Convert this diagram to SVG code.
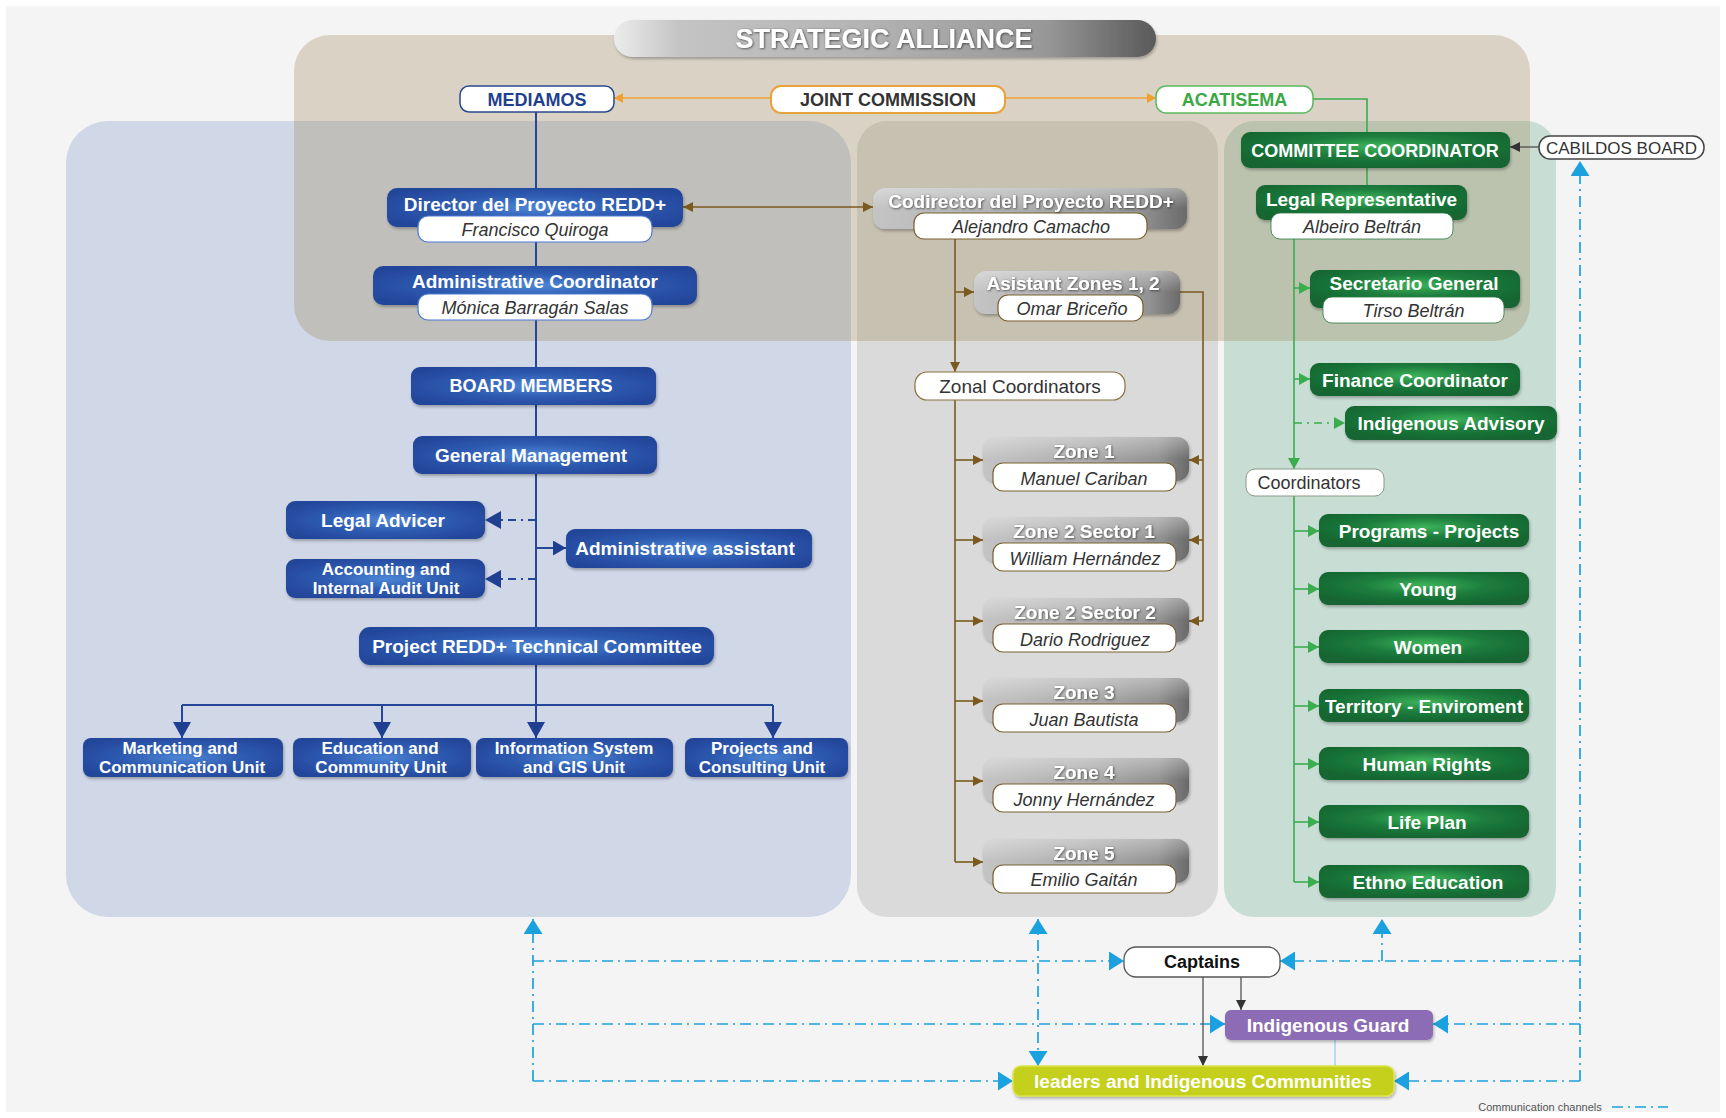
<svg xmlns="http://www.w3.org/2000/svg" width="1726" height="1118" viewBox="0 0 1726 1118">
<style>
.ttl{font-family:"Liberation Sans",Arial,sans-serif;font-weight:700;font-size:19px;fill:#fff;text-anchor:middle;dominant-baseline:central}
.cap{font-size:18px}
.two{font-size:17px}
.sub{font-family:"Liberation Sans",Arial,sans-serif;font-style:italic;font-size:18px;fill:#333;text-anchor:middle;dominant-baseline:central}
.reg{font-family:"Liberation Sans",Arial,sans-serif;font-size:18px;fill:#333;text-anchor:middle;dominant-baseline:central}
.bb{fill:url(#gBlue);filter:url(#sh)}
.gb{fill:url(#gGreen);filter:url(#sh)}
.gy{fill:url(#gGray);filter:url(#sh)}
.gloss{fill:url(#gGloss)}
.wB{fill:#fff;stroke:#4a7bd0;stroke-width:1.2}
.wG{fill:#fff;stroke:#7a6030;stroke-width:1.2}
.wN{fill:#fff;stroke:#2a7a40;stroke-width:0.8}
.ts{filter:url(#tsh)}
.cb{fill:none;stroke:#24479a;stroke-width:2}
.cbr{fill:none;stroke:#7a5a1e;stroke-width:1.6}
.cg{fill:none;stroke:#3aad4e;stroke-width:1.6}
.cc{fill:none;stroke:#1ba1dd;stroke-width:1.7;stroke-dasharray:11 5 2 5}
.ck{fill:none;stroke:#444;stroke-width:1.2}
</style>
<defs>
<radialGradient id="gBlue" cx="50%" cy="50%" r="60%"><stop offset="0" stop-color="#4d86d6"/><stop offset="0.5" stop-color="#2e5bb1"/><stop offset="1" stop-color="#23469a"/></radialGradient>
<radialGradient id="gGreen" cx="50%" cy="40%" r="60%"><stop offset="0" stop-color="#3db35a"/><stop offset="0.5" stop-color="#1c7c3d"/><stop offset="1" stop-color="#146530"/></radialGradient>
<linearGradient id="gGray" x1="0" y1="0" x2="1" y2="0"><stop offset="0" stop-color="#c4c4c4"/><stop offset="0.5" stop-color="#adadad"/><stop offset="0.85" stop-color="#939393"/><stop offset="1" stop-color="#6a6a6a"/></linearGradient>
<linearGradient id="gGloss" x1="0" y1="0" x2="0" y2="1"><stop offset="0" stop-color="#fff" stop-opacity="0.35"/><stop offset="0.5" stop-color="#fff" stop-opacity="0"/></linearGradient>
<linearGradient id="gBanner" x1="0" y1="0" x2="1" y2="0"><stop offset="0" stop-color="#ececec"/><stop offset="0.12" stop-color="#c4c4c4"/><stop offset="0.45" stop-color="#b4b4b4"/><stop offset="0.8" stop-color="#979797"/><stop offset="0.93" stop-color="#6e6e6e"/><stop offset="1" stop-color="#5a5a5a"/></linearGradient>
<filter id="sh" x="-10%" y="-20%" width="120%" height="150%"><feDropShadow dx="1" dy="2" stdDeviation="1.8" flood-color="#000" flood-opacity="0.28"/></filter>
<filter id="tsh" x="-5%" y="-20%" width="110%" height="150%"><feDropShadow dx="0.8" dy="0.8" stdDeviation="0.8" flood-color="#222" flood-opacity="0.75"/></filter>
<marker id="mBlue" viewBox="0 0 10 10" refX="10" refY="5" markerWidth="16" markerHeight="18" markerUnits="userSpaceOnUse" orient="auto" preserveAspectRatio="none"><path d="M0,0L10,5L0,10z" fill="#1f3f93"/></marker>
<marker id="mBlueS" viewBox="0 0 10 10" refX="10" refY="5" markerWidth="13" markerHeight="15" markerUnits="userSpaceOnUse" orient="auto" preserveAspectRatio="none"><path d="M0,0L10,5L0,10z" fill="#1f3f93"/></marker>
<marker id="mCyan" viewBox="0 0 10 10" refX="10" refY="5" markerWidth="15" markerHeight="19" markerUnits="userSpaceOnUse" orient="auto-start-reverse" preserveAspectRatio="none"><path d="M0,0L10,5L0,10z" fill="#1ba1dd"/></marker>
<marker id="mBrown" viewBox="0 0 10 10" refX="10" refY="5" markerWidth="10" markerHeight="10" markerUnits="userSpaceOnUse" orient="auto-start-reverse" preserveAspectRatio="none"><path d="M0,0L10,5L0,10z" fill="#7a5a1e"/></marker>
<marker id="mGreen" viewBox="0 0 10 10" refX="10" refY="5" markerWidth="11" markerHeight="12" markerUnits="userSpaceOnUse" orient="auto" preserveAspectRatio="none"><path d="M0,0L10,5L0,10z" fill="#3aad4e"/></marker>
<marker id="mOrange" viewBox="0 0 10 10" refX="10" refY="5" markerWidth="9" markerHeight="10" markerUnits="userSpaceOnUse" orient="auto" preserveAspectRatio="none"><path d="M0,0L10,5L0,10z" fill="#f0a030"/></marker>
<marker id="mGray" viewBox="0 0 10 10" refX="10" refY="5" markerWidth="10" markerHeight="10" markerUnits="userSpaceOnUse" orient="auto" preserveAspectRatio="none"><path d="M0,0L10,5L0,10z" fill="#333"/></marker>
</defs>

<rect width="1726" height="1118" fill="#ffffff"/>
<rect x="6" y="6" width="1714" height="1106" fill="#f4f4f4"/>

<g id="panels">
<rect x="66" y="121" width="785" height="796" rx="42" fill="#d0d7e7"/>
<rect x="857" y="121" width="361" height="796" rx="30" fill="#d9dad9"/>
<rect x="1224" y="121" width="332" height="796" rx="30" fill="#c8ddd3"/>
<rect x="294" y="35" width="1236" height="306" rx="36" fill="#a08858" fill-opacity="0.3"/>
</g>

<g id="connectors">
<line x1="771" y1="98" x2="614" y2="98" stroke="#f0a030" stroke-width="1.6" marker-end="url(#mOrange)"/>
<line x1="1005" y1="98" x2="1156" y2="98" stroke="#f0a030" stroke-width="1.6" marker-end="url(#mOrange)"/>
<path class="cg" d="M1313,99H1367V132M1367,168V185"/>
<line class="ck" x1="1539" y1="147" x2="1510" y2="147" marker-end="url(#mGray)"/>

<line class="cb" x1="536" y1="112" x2="536" y2="705"/>
<path class="cb" d="M182,705H773"/>
<line class="cb" x1="182" y1="705" x2="182" y2="738" marker-end="url(#mBlue)"/>
<line class="cb" x1="382" y1="705" x2="382" y2="738" marker-end="url(#mBlue)"/>
<line class="cb" x1="536" y1="705" x2="536" y2="738" marker-end="url(#mBlue)"/>
<line class="cb" x1="773" y1="705" x2="773" y2="738" marker-end="url(#mBlue)"/>
<line class="cb" x1="536" y1="520" x2="485" y2="520" stroke-dasharray="8 5 2 5" marker-end="url(#mBlue)"/>
<line class="cb" x1="536" y1="579" x2="485" y2="579" stroke-dasharray="8 5 2 5" marker-end="url(#mBlue)"/>
<line class="cb" x1="536" y1="548" x2="566" y2="548" marker-end="url(#mBlueS)"/>

<line class="cbr" x1="683" y1="207" x2="873" y2="207" marker-start="url(#mBrown)" marker-end="url(#mBrown)"/>
<line class="cbr" x1="955" y1="239" x2="955" y2="372" marker-end="url(#mBrown)"/>
<line class="cbr" x1="955" y1="292" x2="974" y2="292" marker-end="url(#mBrown)"/>
<line class="cbr" x1="955" y1="400" x2="955" y2="862"/>
<line class="cbr" x1="955" y1="460" x2="983" y2="460" marker-end="url(#mBrown)"/>
<line class="cbr" x1="955" y1="540" x2="983" y2="540" marker-end="url(#mBrown)"/>
<line class="cbr" x1="955" y1="621" x2="983" y2="621" marker-end="url(#mBrown)"/>
<line class="cbr" x1="955" y1="701" x2="983" y2="701" marker-end="url(#mBrown)"/>
<line class="cbr" x1="955" y1="781" x2="983" y2="781" marker-end="url(#mBrown)"/>
<line class="cbr" x1="955" y1="862" x2="983" y2="862" marker-end="url(#mBrown)"/>
<path class="cbr" d="M1180,292H1203V621"/>
<line class="cbr" x1="1203" y1="460" x2="1189" y2="460" marker-end="url(#mBrown)"/>
<line class="cbr" x1="1203" y1="540" x2="1189" y2="540" marker-end="url(#mBrown)"/>
<line class="cbr" x1="1203" y1="621" x2="1189" y2="621" marker-end="url(#mBrown)"/>

<line class="cg" x1="1294" y1="239" x2="1294" y2="469" marker-end="url(#mGreen)"/>
<line class="cg" x1="1294" y1="288" x2="1310" y2="288" marker-end="url(#mGreen)"/>
<line class="cg" x1="1294" y1="379" x2="1310" y2="379" marker-end="url(#mGreen)"/>
<line class="cg" x1="1294" y1="423" x2="1345" y2="423" stroke-dasharray="8 5 2 5" marker-end="url(#mGreen)"/>
<line class="cg" x1="1294" y1="496" x2="1294" y2="882"/>
<line class="cg" x1="1294" y1="531" x2="1319" y2="531" marker-end="url(#mGreen)"/>
<line class="cg" x1="1294" y1="589" x2="1319" y2="589" marker-end="url(#mGreen)"/>
<line class="cg" x1="1294" y1="647" x2="1319" y2="647" marker-end="url(#mGreen)"/>
<line class="cg" x1="1294" y1="706" x2="1319" y2="706" marker-end="url(#mGreen)"/>
<line class="cg" x1="1294" y1="764" x2="1319" y2="764" marker-end="url(#mGreen)"/>
<line class="cg" x1="1294" y1="822" x2="1319" y2="822" marker-end="url(#mGreen)"/>
<line class="cg" x1="1294" y1="882" x2="1319" y2="882" marker-end="url(#mGreen)"/>

<line class="cc" x1="533" y1="1081" x2="533" y2="919" marker-end="url(#mCyan)"/>
<line class="cc" x1="533" y1="961" x2="1124" y2="961" marker-end="url(#mCyan)"/>
<line class="cc" x1="533" y1="1024" x2="1225" y2="1024" marker-end="url(#mCyan)"/>
<line class="cc" x1="533" y1="1081" x2="1013" y2="1081" marker-end="url(#mCyan)"/>
<line class="cc" x1="1038" y1="1066" x2="1038" y2="919" marker-start="url(#mCyan)" marker-end="url(#mCyan)"/>
<line class="cc" x1="1382" y1="961" x2="1382" y2="919" marker-end="url(#mCyan)"/>
<line class="cc" x1="1580" y1="1081" x2="1580" y2="161" marker-end="url(#mCyan)"/>
<line class="cc" x1="1580" y1="961" x2="1280" y2="961" stroke-width="2.6" marker-end="url(#mCyan)"/>
<line class="cc" x1="1580" y1="1024" x2="1433" y2="1024" marker-end="url(#mCyan)"/>
<line class="cc" x1="1580" y1="1081" x2="1394" y2="1081" marker-end="url(#mCyan)"/>
<line class="ck" x1="1203" y1="977" x2="1203" y2="1066" marker-end="url(#mGray)"/>
<line class="ck" x1="1241" y1="977" x2="1241" y2="1010" marker-end="url(#mGray)"/>
<line x1="1335" y1="1040" x2="1335" y2="1066" stroke="#7fc6e0" stroke-width="1"/>
<line class="cc" x1="1612" y1="1107" x2="1668" y2="1107" stroke-width="1.3"/>
</g>

<g id="strategic-alliance">
<rect x="614" y="20" width="542" height="37" rx="18.5" fill="url(#gBanner)" filter="url(#sh)"/>
<text class="ttl ts" x="884" y="39" style="font-size:27px">STRATEGIC ALLIANCE</text>
</g>
<g id="mediamos">
<rect x="460" y="86" width="154" height="26" rx="9" fill="#fff" stroke="#2a4a8a" stroke-width="1.5"/>
<text class="ttl cap" x="537" y="99.5" style="fill:#1f3f8f">MEDIAMOS</text>
</g>
<g id="joint-commission">
<rect x="771" y="86" width="234" height="27" rx="10" fill="#fff" stroke="#e6a23c" stroke-width="2"/>
<text class="ttl cap" x="888" y="100" style="fill:#333">JOINT COMMISSION</text>
</g>
<g id="acatisema">
<rect x="1156" y="86" width="157" height="27" rx="10" fill="#fff" stroke="#5cb85c" stroke-width="1.5"/>
<text class="ttl cap" x="1234.5" y="100" style="fill:#3aa845">ACATISEMA</text>
</g>
<g id="committee-coordinator">
<rect class="gb" x="1241" y="132" width="269" height="36" rx="9"/>
<text class="ttl cap" x="1375" y="150.5">COMMITTEE COORDINATOR</text>
</g>
<g id="cabildos-board">
<rect x="1539" y="136" width="165" height="23" rx="11" fill="#fff" stroke="#444" stroke-width="1.5"/>
<text class="reg" x="1621.5" y="148" style="font-size:17px">CABILDOS BOARD</text>
</g>
<g id="legal-representative">
<rect class="gb" x="1256" y="185" width="211" height="35" rx="9"/>
<rect class="wN" x="1271" y="213" width="182" height="26" rx="9"/>
<text class="ttl" x="1361.5" y="199">Legal Representative</text>
<text class="sub" x="1362" y="226.5">Albeiro Beltrán</text>
</g>
<g id="secretario-general">
<rect class="gb" x="1310" y="270" width="210" height="38" rx="9"/>
<rect class="wN" x="1323" y="297" width="181" height="26" rx="9"/>
<text class="ttl" x="1414" y="283.5">Secretario General</text>
<text class="sub" x="1413.5" y="310.5">Tirso Beltrán</text>
</g>
<g id="finance-coordinator">
<rect class="gb" x="1310" y="363" width="210" height="33" rx="9"/>
<text class="ttl" x="1415" y="380">Finance Coordinator</text>
</g>
<g id="indigenous-advisory">
<rect class="gb" x="1345" y="406" width="212" height="34" rx="9"/>
<text class="ttl" x="1451" y="423">Indigenous Advisory</text>
</g>
<g id="coordinators">
<rect x="1246" y="469" width="138" height="27" rx="9" fill="#fff" stroke="#8a9a88" stroke-width="1"/>
<text class="reg" x="1309" y="483">Coordinators</text>
</g>
<g id="programs-projects"><rect class="gb" x="1319" y="514" width="210" height="33" rx="9"/><text class="ttl" x="1429" y="531">Programs - Projects</text></g>
<g id="young"><rect class="gb" x="1319" y="572" width="210" height="33" rx="9"/><text class="ttl" x="1428" y="589">Young</text></g>
<g id="women"><rect class="gb" x="1319" y="630" width="210" height="33" rx="9"/><text class="ttl" x="1428" y="647">Women</text></g>
<g id="territory-enviroment"><rect class="gb" x="1319" y="689" width="210" height="33" rx="9"/><text class="ttl" x="1424" y="706">Territory - Enviroment</text></g>
<g id="human-rights"><rect class="gb" x="1319" y="747" width="210" height="33" rx="9"/><text class="ttl" x="1427" y="764">Human Rights</text></g>
<g id="life-plan"><rect class="gb" x="1319" y="805" width="210" height="33" rx="9"/><text class="ttl" x="1427" y="822">Life Plan</text></g>
<g id="ethno-education"><rect class="gb" x="1319" y="865" width="210" height="33" rx="9"/><text class="ttl" x="1428" y="882">Ethno Education</text></g>

<g id="director">
<rect class="bb" x="387" y="188" width="296" height="39" rx="10"/>
<rect class="wB" x="418" y="216" width="234" height="26" rx="10"/>
<text class="ttl" x="535" y="204">Director del Proyecto REDD+</text>
<text class="sub" x="535" y="230">Francisco Quiroga</text>
</g>
<g id="administrative-coordinator">
<rect class="bb" x="373" y="266" width="324" height="39" rx="10"/>
<rect class="wB" x="418" y="294" width="234" height="26" rx="10"/>
<text class="ttl" x="535" y="281">Administrative Coordinator</text>
<text class="sub" x="535" y="307.5">Mónica Barragán Salas</text>
</g>
<g id="board-members">
<rect class="bb" x="411" y="367" width="245" height="38" rx="9"/>
<text class="ttl cap" x="531" y="386">BOARD MEMBERS</text>
</g>
<g id="general-management">
<rect class="bb" x="413" y="436" width="244" height="38" rx="9"/>
<text class="ttl" x="531" y="455">General Management</text>
</g>
<g id="legal-advicer">
<rect class="bb" x="286" y="501" width="199" height="38" rx="9"/>
<text class="ttl" x="383" y="520">Legal Advicer</text>
</g>
<g id="accounting">
<rect class="bb" x="286" y="559" width="199" height="39" rx="9"/>
<text class="ttl two" x="386" y="569">Accounting and</text>
<text class="ttl two" x="386" y="588">Internal Audit Unit</text>
</g>
<g id="administrative-assistant">
<rect class="bb" x="566" y="529" width="246" height="39" rx="9"/>
<text class="ttl" x="685" y="548">Administrative assistant</text>
</g>
<g id="technical-committee">
<rect class="bb" x="359" y="627" width="355" height="38" rx="11"/>
<text class="ttl" x="537" y="646">Project REDD+ Technical Committee</text>
</g>
<g id="marketing-unit">
<rect class="bb" x="83" y="738" width="200" height="39" rx="8"/>
<text class="ttl two" x="180" y="748">Marketing and</text>
<text class="ttl two" x="182" y="767">Communication Unit</text>
</g>
<g id="education-unit">
<rect class="bb" x="293" y="738" width="178" height="39" rx="8"/>
<text class="ttl two" x="380" y="748">Education and</text>
<text class="ttl two" x="381" y="767">Community Unit</text>
</g>
<g id="information-unit">
<rect class="bb" x="476" y="738" width="197" height="39" rx="8"/>
<text class="ttl two" x="574" y="748">Information System</text>
<text class="ttl two" x="574" y="767">and GIS Unit</text>
</g>
<g id="projects-unit">
<rect class="bb" x="685" y="738" width="163" height="39" rx="8"/>
<text class="ttl two" x="762" y="748">Projects and</text>
<text class="ttl two" x="762" y="767">Consulting Unit</text>
</g>

<g id="codirector">
<rect class="gy" x="873" y="188" width="314" height="41" rx="12"/>
<rect class="gloss" x="873" y="188" width="314" height="41" rx="12"/>
<rect class="wG" x="914" y="213" width="233" height="26" rx="10"/>
<text class="ttl ts" x="1031" y="201">Codirector del Proyecto REDD+</text>
<text class="sub" x="1031" y="227">Alejandro Camacho</text>
</g>
<g id="asistant-zones">
<rect class="gy" x="974" y="271" width="206" height="43" rx="12"/>
<rect class="gloss" x="974" y="271" width="206" height="43" rx="12"/>
<rect class="wG" x="998" y="295" width="145" height="26" rx="10"/>
<text class="ttl ts" x="1073" y="283">Asistant Zones 1, 2</text>
<text class="sub" x="1072" y="308.5">Omar Briceño</text>
</g>
<g id="zonal-coordinators">
<rect x="915" y="372" width="210" height="28" rx="12" fill="#fff" stroke="#8a7040" stroke-width="1.2"/>
<text class="reg" x="1020" y="386.5" style="font-size:19px">Zonal Coordinators</text>
</g>
<g id="zone-1">
<rect class="gy" x="983" y="437" width="206" height="44" rx="12"/><rect class="gloss" x="983" y="437" width="206" height="44" rx="12"/>
<rect class="wG" x="993" y="463" width="183" height="28" rx="10"/>
<text class="ttl ts" x="1084" y="451">Zone 1</text><text class="sub" x="1084" y="478.5">Manuel Cariban</text>
</g>
<g id="zone-2-sector-1">
<rect class="gy" x="983" y="517" width="206" height="44" rx="12"/><rect class="gloss" x="983" y="517" width="206" height="44" rx="12"/>
<rect class="wG" x="993" y="543" width="183" height="28" rx="10"/>
<text class="ttl ts" x="1084" y="531">Zone 2 Sector 1</text><text class="sub" x="1085" y="558.5">William Hernández</text>
</g>
<g id="zone-2-sector-2">
<rect class="gy" x="983" y="598" width="206" height="44" rx="12"/><rect class="gloss" x="983" y="598" width="206" height="44" rx="12"/>
<rect class="wG" x="993" y="624" width="183" height="28" rx="10"/>
<text class="ttl ts" x="1085" y="612">Zone 2 Sector 2</text><text class="sub" x="1085" y="639.5">Dario Rodriguez</text>
</g>
<g id="zone-3">
<rect class="gy" x="983" y="678" width="206" height="44" rx="12"/><rect class="gloss" x="983" y="678" width="206" height="44" rx="12"/>
<rect class="wG" x="993" y="704" width="183" height="28" rx="10"/>
<text class="ttl ts" x="1084" y="692">Zone 3</text><text class="sub" x="1084" y="719.5">Juan Bautista</text>
</g>
<g id="zone-4">
<rect class="gy" x="983" y="758" width="206" height="44" rx="12"/><rect class="gloss" x="983" y="758" width="206" height="44" rx="12"/>
<rect class="wG" x="993" y="784" width="183" height="28" rx="10"/>
<text class="ttl ts" x="1084" y="772">Zone 4</text><text class="sub" x="1084" y="799.5">Jonny Hernández</text>
</g>
<g id="zone-5">
<rect class="gy" x="983" y="839" width="206" height="44" rx="12"/><rect class="gloss" x="983" y="839" width="206" height="44" rx="12"/>
<rect class="wG" x="993" y="865" width="183" height="28" rx="10"/>
<text class="ttl ts" x="1084" y="853">Zone 5</text><text class="sub" x="1084" y="880">Emilio Gaitán</text>
</g>

<g id="captains">
<rect x="1124" y="947" width="156" height="30" rx="12" fill="#fff" stroke="#555" stroke-width="1.3"/>
<text class="ttl cap" x="1202" y="962" style="fill:#111">Captains</text>
</g>
<g id="indigenous-guard">
<rect x="1225" y="1010" width="208" height="30" rx="6" fill="#8c6db5" filter="url(#sh)"/>
<text class="ttl" x="1328" y="1025.5">Indigenous Guard</text>
</g>
<g id="leaders-communities">
<rect x="1013" y="1066" width="381" height="30" rx="8" fill="#c5d01f" stroke="#dbe34a" stroke-width="1.5" filter="url(#sh)"/>
<text class="ttl" x="1203" y="1081.5">leaders and Indigenous Communities</text>
</g>
<g id="legend">
<text x="1540" y="1107" font-family="Liberation Sans, Arial, sans-serif" font-size="11" fill="#555" text-anchor="middle" dominant-baseline="central">Communication channels</text>
</g>
</svg>
